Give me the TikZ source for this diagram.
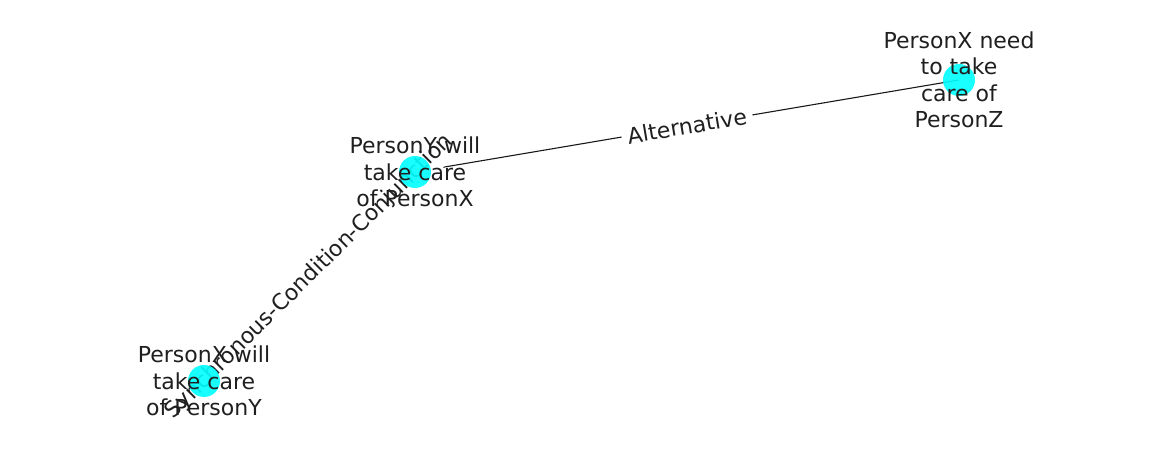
\documentclass[tikz,border=0pt]{standalone}
\usepackage{fontspec}
\setmainfont{DejaVu Sans}
\definecolor{nodecyan}{RGB}{0,255,255}
\begin{document}
\begin{tikzpicture}[x=1pt,y=1pt,
  vertex/.style={circle, fill=nodecyan, fill opacity=0.9, minimum size=32pt, inner sep=0pt},
  vlabel/.style={align=center, inner sep=0pt, text=black!88,
    font=\fontsize{22}{26.5}\selectfont},
  elabel/.style={sloped, fill=white, rounded corners=5pt, inner sep=6pt,
    font=\fontsize{22}{26}\selectfont, text=black!88},
  edge/.style={draw=black!90, line width=1.1pt}]
\useasboundingbox (0,0) rectangle (1162,462);
% vertex positions
\coordinate (pa) at (204,81);
\coordinate (pb) at (415,290);
\coordinate (pc) at (959,382);
% edges
\draw[edge] (pa) -- (pb);
\draw[edge] (pb) -- (pc);
% edge labels
\path (pa) -- node[elabel] {Synchronous-Condition-Conjunction} (pb);
\path (pb) -- node[elabel] {Alternative} (pc);
% vertices
\node[vertex] (a) at (pa) {};
\node[vertex] (b) at (pb) {};
\node[vertex] (c) at (pc) {};
% vertex captions
\node[vlabel] (ta) at (a) {PersonX will\\take care\\of PersonY};
\node[vlabel] (tb) at (b) {PersonY will\\take care\\of PersonX};
\node[vlabel] (tc) at (c) {PersonX need\\to take\\care of\\PersonZ};
\end{tikzpicture}
\end{document}
